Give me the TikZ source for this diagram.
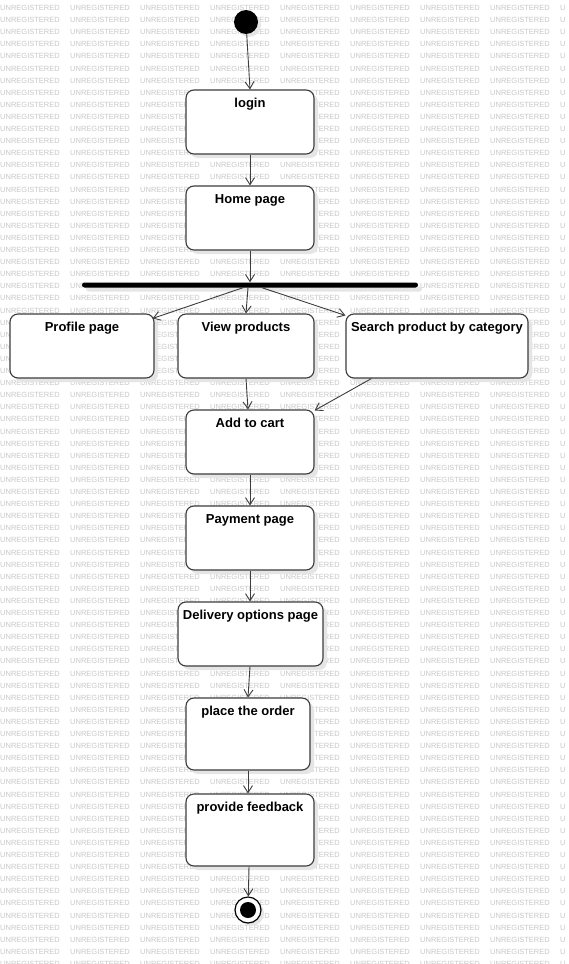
\documentclass[tikz,border=0pt]{standalone}
\usepackage{fontspec}
\setmainfont{Liberation Sans}
\usepackage{tikz}
\usetikzlibrary{arrows.meta,shadows}
\definecolor{edgegray}{HTML}{3C3C3C}
\definecolor{wmgray}{HTML}{C8C8C8}
\tikzstyle{line} = [draw=edgegray, line width=0.9pt, -{Straight Barb[length=7pt,width=9pt]}]
\tikzstyle{act} = [draw=edgegray, line width=1.1pt, rounded corners=8pt, fill=white, inner sep=0pt,
  text height=17pt, text depth=47pt, align=center, font=\fontsize{13}{15}\selectfont\bfseries,
  drop shadow={shadow xshift=4pt, shadow yshift=-4pt, fill=black!10, opacity=1}]
\tikzstyle{wm} = [anchor=west, inner sep=0pt, text=wmgray, font=\fontsize{7.5}{8}\selectfont]

\begin{document}
\begin{tikzpicture}[x=1pt,y=-1pt]
    \useasboundingbox[fill=white] (0,0) rectangle (568,964);

    % watermark
    \foreach \r in {0,...,79} {
      \foreach \c in {0,...,7} {
        \node[wm] (wm-\r-\c) at (\c * 70, \r * 12.1 + 8) {UNREGISTERED};
      }
      \node[wm] (wm-\r-8) at (560, \r * 12.1 + 8) {U};
    }

        \node[circle,fill=black,minimum size=24pt,inner sep=0pt,
          drop shadow={shadow xshift=3pt,shadow yshift=-3pt,fill=black!10,opacity=1}] (start) at (246,22) {};

        \node[act,minimum width=128pt] (login) at (250,122) {login};
        \node[act,minimum width=128pt] (home) at (250,218) {Home page};

        \node[fill=black,minimum width=336pt,minimum height=5pt,inner sep=0pt,rounded corners=2.5pt,
          drop shadow={shadow xshift=4pt,shadow yshift=-4pt,fill=black!10,opacity=1}] (fork) at (250,285) {};

        \node[act,minimum width=144pt] (profile) at (82,346) {Profile page};
        \node[act,minimum width=136pt] (view) at (246,346) {View products};
        \node[act,minimum width=182pt] (search) at (437,346) {Search product by category};

        \node[act,minimum width=128pt] (cart) at (250,442) {Add to cart};
        \node[act,minimum width=128pt] (payment) at (250,538) {Payment page};
        \node[act,minimum width=145pt] (delivery) at (250.5,634) {Delivery options page};
        \node[act,minimum width=124pt,text depth=55pt] (order) at (248,734) {place the order};
        \node[act,minimum width=128pt,text depth=55pt] (feedback) at (250,830) {provide feedback};

        \node[circle,draw=black,line width=1.2pt,fill=white,minimum size=26pt,inner sep=0pt,
          drop shadow={shadow xshift=3pt,shadow yshift=-3pt,fill=black!10,opacity=1}] (end) at (248,910) {};
        \node[circle,fill=black,minimum size=16pt,inner sep=0pt] (endin) at (end) {};

    \draw[line] (start) -- (login.north);
    \draw[line] (login) -- (home);
    \draw[line] (home.south) -- (fork.north -| home.south);
    \draw[line] ([xshift=-7pt]fork.south) -- ([xshift=-2pt,yshift=-5pt]profile.north east);
    \draw[line] ([xshift=-2pt]fork.south) -- (view.north);
    \draw[line] ([xshift=12pt]fork.south) -- ([yshift=-2pt]search.north west);
    \draw[line] (view.south) -- ([xshift=-2pt]cart.north);
    \draw[line] ([xshift=26pt]search.south west) -- ([yshift=-1pt]cart.north east);
    \draw[line] (cart) -- (payment);
    \draw[line] (payment) -- (delivery.north -| payment.south);
    \draw[line] (delivery.south -| payment.south) -- (order.north);
    \draw[line] (order) -- (feedback.north -| order.south);
    \draw[line] ([xshift=-1pt]feedback.south) -- (end);

    \end{tikzpicture}
\end{document}
